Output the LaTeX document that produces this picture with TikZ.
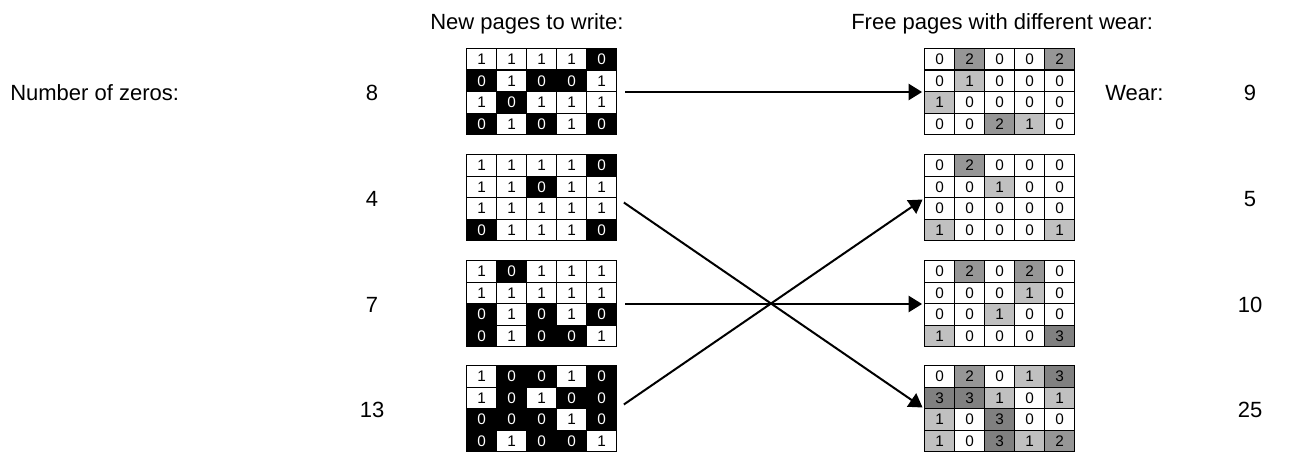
\documentclass[tikz,border=0pt]{standalone}
\usepackage{fontspec}
\setmainfont{Liberation Sans}
\usetikzlibrary{arrows.meta,calc}
\tikzset{
  gridframe/.style={minimum width=112.5pt,minimum height=64.5pt,inner sep=0pt,draw=none},
  cell/.style={draw=black,line width=1.1pt,minimum width=22.5pt,minimum height=16.125pt,inner sep=0pt,
    font=\fontsize{11.5}{13}\selectfont},
  lc0/.style={fill=black,text=white},
  lc1/.style={fill=white,text=black},
  rc0/.style={fill=white,text=black},
  rc1/.style={fill=wearA,text=black},
  rc2/.style={fill=wearB,text=black},
  rc3/.style={fill=wearC,text=black},
  lbl/.style={inner sep=0pt,font=\fontsize{16.5}{20}\selectfont},
  arr/.style={line width=1.5pt,-{Triangle[length=10pt,width=12pt]},shorten <=6pt,shorten >=2pt}
}
\definecolor{wearA}{RGB}{192,192,192}
\definecolor{wearB}{RGB}{150,150,150}
\definecolor{wearC}{RGB}{128,128,128}
\newcommand\pagegrid[5]{%
  \node[gridframe] (#1) at (#2,#3) {};
  \foreach \row [count=\r] in {#5} {
    \foreach \v [count=\c] in \row {
      \node[cell,#4\v] (#1-\r-\c) at ($(#1.north west)+(30*\c-15,21.5*\r-10.75)$) {\v};
    }
  }
}
\begin{document}
\begin{tikzpicture}[x=0.75pt,y=-0.75pt]
\useasboundingbox (0,0) rectangle (1294,453);
% headers
\node[lbl,anchor=base west] (hL) at (430,30) {New pages to write:};
\node[lbl,anchor=base west] (hR) at (851,30) {Free pages with different wear:};
\node[lbl,anchor=base west] (nz) at (10,100) {Number of zeros:};
\node[lbl,anchor=base west] (wr) at (1105,100) {Wear:};
% counts
\node[lbl,anchor=base] (z1) at (372,100) {8};
\node[lbl,anchor=base] (z2) at (372,206) {4};
\node[lbl,anchor=base] (z3) at (372,312) {7};
\node[lbl,anchor=base] (z4) at (372,417) {13};
\node[lbl,anchor=base] (w1) at (1250,100) {9};
\node[lbl,anchor=base] (w2) at (1250,206) {5};
\node[lbl,anchor=base] (w3) at (1250,312) {10};
\node[lbl,anchor=base] (w4) at (1250,417) {25};
% left grids
\pagegrid{L1}{542}{92}{lc}{{1,1,1,1,0},{0,1,0,0,1},{1,0,1,1,1},{0,1,0,1,0}}
\pagegrid{L2}{542}{198}{lc}{{1,1,1,1,0},{1,1,0,1,1},{1,1,1,1,1},{0,1,1,1,0}}
\pagegrid{L3}{542}{304}{lc}{{1,0,1,1,1},{1,1,1,1,1},{0,1,0,1,0},{0,1,0,0,1}}
\pagegrid{L4}{542}{409}{lc}{{1,0,0,1,0},{1,0,1,0,0},{0,0,0,1,0},{0,1,0,0,1}}
% right grids
\pagegrid{R1}{1000}{92}{rc}{{0,2,0,0,2},{0,1,0,0,0},{1,0,0,0,0},{0,0,2,1,0}}
\pagegrid{R2}{1000}{198}{rc}{{0,2,0,0,0},{0,0,1,0,0},{0,0,0,0,0},{1,0,0,0,1}}
\pagegrid{R3}{1000}{304}{rc}{{0,2,0,2,0},{0,0,0,1,0},{0,0,1,0,0},{1,0,0,0,3}}
\pagegrid{R4}{1000}{409}{rc}{{0,2,0,1,3},{3,3,1,0,1},{1,0,3,0,0},{1,0,3,1,2}}
% arrows
\draw[arr] (L1.east) -- (R1.west);
\draw[arr] (L2.east) -- (R4.west);
\draw[arr] (L3.east) -- (R3.west);
\draw[arr] (L4.east) -- (R2.west);
\end{tikzpicture}
\end{document}
